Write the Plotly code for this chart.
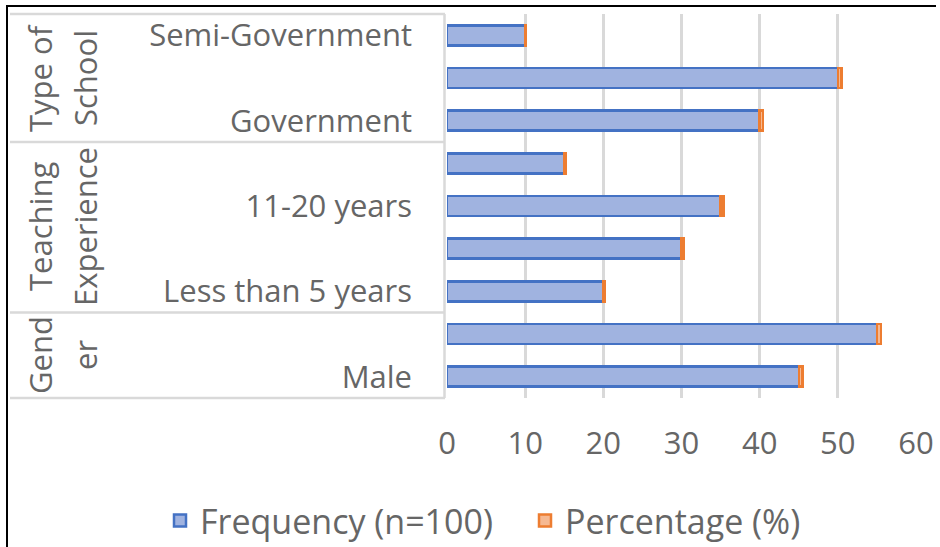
import plotly.graph_objects as go

# ---- data (bottom to top) ----
categories = ["Male", "Female", "Less than 5 years", "5-10 years", "11-20 years",
              "More than 20 years", "Government", "Private", "Semi-Government"]
frequency = [45, 55, 20, 30, 35, 15, 40, 50, 10]
percentage = [0.45, 0.55, 0.20, 0.30, 0.35, 0.15, 0.40, 0.50, 0.10]
shown_labels = ["Male", "Less than 5 years", "11-20 years", "Government", "Semi-Government"]
groups = [("Type of", "School", 78), ("Teaching", "Experience", 227), ("Gend", "er", 355)]
x_ticks = [0, 10, 20, 30, 40, 50, 60]

FONT = "Open Sans"
GRAY = "#666666"
FS = 31

W, H = 940, 547
L, R, T, B = 447, 24, 14, 149
PW, PH = W - L - R, H - T - B

def px(x):
    return (x - L) / PW

def py(y):
    return (H - B - y) / PH

fig = go.Figure()
fig.add_trace(go.Bar(
    y=categories, x=frequency, orientation="h", name="Frequency (n=100)",
    marker=dict(color="#a0b3e0", line=dict(color="#4472c4", width=2.5)),
    width=0.47,
))
fig.add_trace(go.Bar(
    y=categories, x=percentage, orientation="h", name="Percentage (%)",
    marker=dict(color="#f6b992", line=dict(color="#ed7d31", width=2.5)),
    width=0.47,
))

shapes = []
line_col = "#d9d9d9"
# table lines for category axis
for yy in [14, 142, 312.5, 398]:
    shapes.append(dict(type="line", xref="paper", yref="paper",
                       x0=px(10), x1=px(445), y0=py(yy), y1=py(yy),
                       line=dict(color=line_col, width=2.5)))
shapes.append(dict(type="line", xref="paper", yref="paper",
                   x0=px(444.5), x1=px(444.5), y0=py(14), y1=py(398),
                   line=dict(color=line_col, width=2.5)))
# outer frame (top and left)
shapes.append(dict(type="line", xref="paper", yref="paper",
                   x0=px(6), x1=px(936), y0=py(6), y1=py(6),
                   line=dict(color="black", width=2)))
shapes.append(dict(type="line", xref="paper", yref="paper",
                   x0=px(7), x1=px(7), y0=py(5), y1=py(548),
                   line=dict(color="black", width=2)))

annotations = []
for l1, l2, yc in groups:
    for txt, xc in ((l1, 40), (l2, 85)):
        annotations.append(dict(text=txt, xref="paper", yref="paper", x=px(xc), y=py(yc),
                                xanchor="center", yanchor="middle",
                                textangle=-90, showarrow=False,
                                font=dict(family=FONT, size=FS, color=GRAY)))

fig.update_layout(
    width=W, height=H,
    margin=dict(l=L, r=R, t=T, b=B, pad=0, autoexpand=False),
    barmode="stack",
    paper_bgcolor="white", plot_bgcolor="white",
    font=dict(family=FONT, size=FS, color=GRAY),
    xaxis=dict(range=[0, 60], tickvals=x_ticks, showgrid=True, gridcolor=line_col,
               gridwidth=3, zeroline=False, showline=False, ticks="",
               ticklabelstandoff=24, tickfont=dict(family=FONT, size=FS, color=GRAY),
               fixedrange=True),
    yaxis=dict(type="category", categoryorder="array", categoryarray=categories,
               range=[-0.5, 8.5], tickvals=shown_labels, ticktext=shown_labels,
               showgrid=False, zeroline=False, showline=False, ticks="",
               ticklabelstandoff=34, tickfont=dict(family=FONT, size=FS, color=GRAY),
               fixedrange=True),
    legend=dict(orientation="h", xref="paper", yref="paper",
                x=px(160), xanchor="left", y=py(521), yanchor="middle",
                font=dict(family=FONT, size=34, color=GRAY),
                traceorder="normal", itemwidth=30,
                entrywidth=320, entrywidthmode="pixels"),
    shapes=shapes,
    annotations=annotations,
    bargap=0.53,
)

fig.write_html("out.html")
